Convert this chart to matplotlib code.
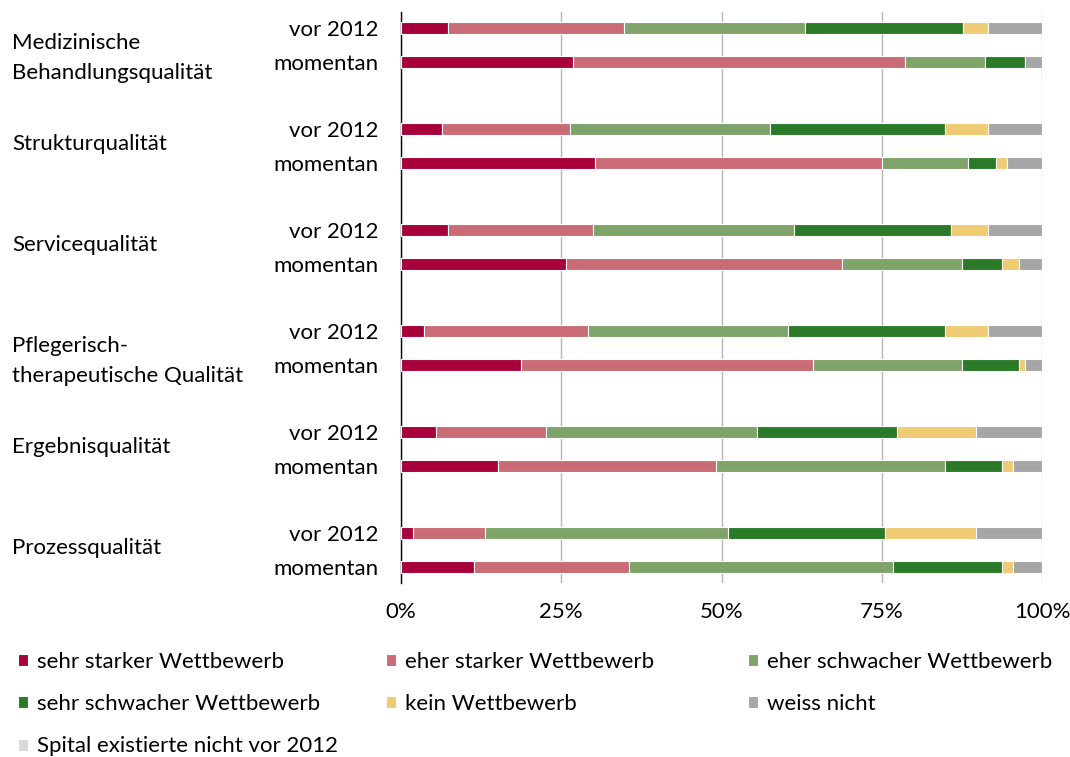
import matplotlib.pyplot as plt
import numpy as np

plt.rcParams['font.family'] = ['Lato', 'DejaVu Sans']

categories = ["Medizinische\nBehandlungsqualität", "Strukturqualität", "Servicequalität",
              "Pflegerisch-\ntherapeutische Qualität", "Ergebnisqualität", "Prozessqualität"]
rows = ["vor 2012", "momentan"]
series = ["sehr starker Wettbewerb", "eher starker Wettbewerb", "eher schwacher Wettbewerb",
          "sehr schwacher Wettbewerb", "kein Wettbewerb", "weiss nicht",
          "Spital existierte nicht vor 2012"]
colors = ["#A8003A", "#C96C75", "#7EA46A", "#2A7A28", "#EFCB73", "#A6A6A6", "#D9D9D9"]

# per category: (vor 2012, momentan), values in % for each series
sehr_stark = [(7.4, 26.8), (6.4, 30.2), (7.4, 25.8), (3.6, 18.7), (5.5, 15.1), (1.8, 11.4)]
eher_stark = [(27.4, 51.8), (19.9, 44.8), (22.6, 43.0), (25.5, 45.6), (17.1, 34.0), (11.3, 24.2)]
eher_schwach = [(28.3, 12.5), (31.2, 13.4), (31.3, 18.7), (31.3, 23.2), (33.0, 35.8), (37.9, 41.2)]
sehr_schwach = [(24.6, 6.3), (27.4, 4.4), (24.5, 6.3), (24.5, 8.9), (21.8, 8.9), (24.5, 17.0)]
kein = [(3.9, 0.0), (6.7, 1.8), (5.8, 2.6), (6.7, 1.0), (12.3, 1.7), (14.2, 1.7)]
weiss = [(8.4, 2.6), (8.4, 5.4), (8.4, 3.6), (8.4, 2.6), (10.3, 4.5), (10.3, 4.5)]
spital = [(0, 0), (0, 0), (0, 0), (0, 0), (0, 0), (0, 0)]

data = [sehr_stark, eher_stark, eher_schwach, sehr_schwach, kein, weiss, spital]

# y positions: vor 2012 and momentan rows per category
group_step = 2.97
ypos = []
ylabels = []
for g in range(len(categories)):
    for r in range(2):
        ypos.append(g * group_step + r)
        ylabels.append(rows[r])
ypos = np.array(ypos)

fs = 16
fig = plt.figure(figsize=(10.7, 7.57), dpi=100)
ax = fig.add_axes([401 / 1070, 1 - 583 / 757, 641 / 1070, 571 / 757])

left = np.zeros(len(ypos))
handles = []
for s, name in enumerate(series):
    vals = np.array([v for pair in data[s] for v in pair])
    b = ax.barh(ypos, vals, left=left, height=0.36, color=colors[s],
                edgecolor="white", linewidth=0.8, label=name, zorder=3)
    handles.append(b)
    left += vals

ax.set_xlim(0, 100)
ax.set_ylim(ypos[-1] + 0.47, -0.47)
ax.set_xticks([0, 25, 50, 75, 100])
ax.set_xticklabels(["0%", "25%", "50%", "75%", "100%"])
ax.set_yticks(ypos)
ax.set_yticklabels(ylabels)
ax.tick_params(axis="both", length=0, labelsize=fs, colors="black")
ax.tick_params(axis="x", pad=14)
ax.tick_params(axis="y", pad=16.5)
ax.xaxis.grid(True, color="#B5B5B5", linewidth=1)
ax.set_axisbelow(True)
for sp in ["top", "right", "bottom"]:
    ax.spines[sp].set_visible(False)
ax.spines["left"].set_color("black")
ax.spines["left"].set_linewidth(1)

# category labels on the far left (two-line labels sit a bit lower)
for g, cat in enumerate(categories):
    ymid = g * group_step + 0.5
    ymid += 0.38 if "\n" in cat else -0.06
    ax.text((12 - 401) / 641 * 100, ymid, cat, ha="left", va="center",
            fontsize=fs, linespacing=1.6, clip_on=False)

# legend in three fixed columns
col_x = [18, 386, 748]
col_items = [[0, 3, 6], [1, 4], [2, 5]]
for cx, items in zip(col_x, col_items):
    fig.legend([handles[i] for i in items], [series[i] for i in items],
               loc="upper left", bbox_to_anchor=(cx / 1070, 1 - 652 / 757),
               frameon=False, fontsize=fs, handlelength=0.45, handleheight=0.45,
               handletextpad=0.4, labelspacing=1.0, borderaxespad=0, borderpad=0)

fig.savefig("out.png", dpi=100)
